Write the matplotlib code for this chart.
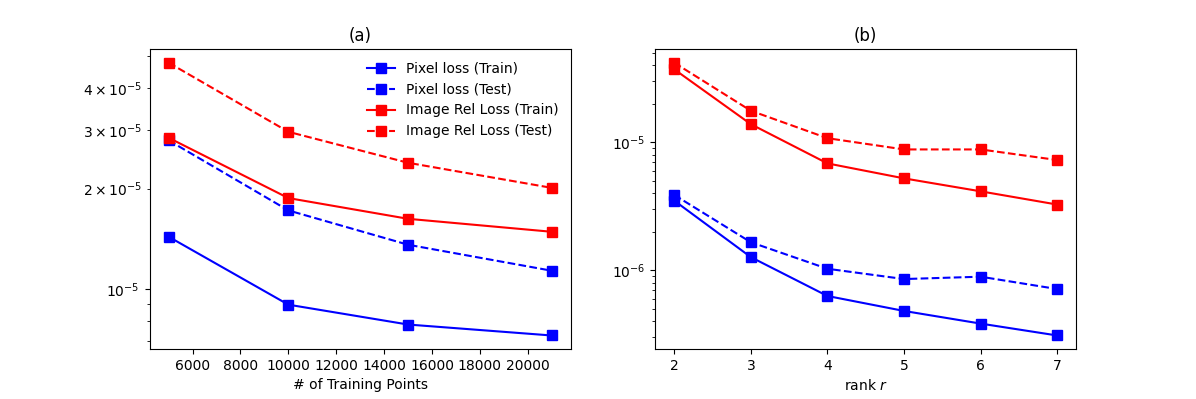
import numpy as np
import matplotlib
matplotlib.use('Agg')
import matplotlib.pyplot as plt

# (a) loss vs number of training points
n_train = [5000, 10000, 15000, 21000]
pix_train_a = [1.434e-5, 0.897e-5, 0.782e-5, 0.725e-5]
pix_test_a = [2.79e-5, 1.72e-5, 1.357e-5, 1.134e-5]
img_train_a = [2.84e-5, 1.873e-5, 1.623e-5, 1.484e-5]
img_test_a = [4.77e-5, 2.96e-5, 2.39e-5, 2.01e-5]

# (b) loss vs rank r
ranks = [2, 3, 4, 5, 6, 7]
pix_train_b = [3.51e-6, 1.27e-6, 6.31e-7, 4.82e-7, 3.84e-7, 3.10e-7]
pix_test_b = [3.89e-6, 1.66e-6, 1.03e-6, 8.56e-7, 8.93e-7, 7.15e-7]
img_train_b = [3.73e-5, 1.39e-5, 6.86e-6, 5.24e-6, 4.15e-6, 3.27e-6]
img_test_b = [4.20e-5, 1.77e-5, 1.08e-5, 8.82e-6, 8.82e-6, 7.29e-6]

labels = ['Pixel loss (Train)', 'Pixel loss (Test)',
          'Image Rel Loss (Train)', 'Image Rel Loss (Test)']

fig = plt.figure(figsize=(11.96, 3.99), dpi=100)
fig.subplots_adjust(top=0.877, bottom=0.125)

ax = fig.add_subplot(121)
ax.semilogy(n_train, pix_train_a, 'b-s', markersize=7, label=labels[0])
ax.semilogy(n_train, pix_test_a, 'b--s', markersize=7, label=labels[1])
ax.semilogy(n_train, img_train_a, 'r-s', markersize=7, label=labels[2])
ax.semilogy(n_train, img_test_a, 'r--s', markersize=7, label=labels[3])
ax.set_xlabel('# of Training Points')
ax.set_title('(a)')
ax.legend(loc='upper right', frameon=False)

ax2 = fig.add_subplot(122)
ax2.semilogy(ranks, pix_train_b, 'b-s', markersize=7)
ax2.semilogy(ranks, pix_test_b, 'b--s', markersize=7)
ax2.semilogy(ranks, img_train_b, 'r-s', markersize=7)
ax2.semilogy(ranks, img_test_b, 'r--s', markersize=7)
ax2.set_xlabel('rank $r$')
ax2.set_title('(b)')

plt.savefig('out.png', dpi=100)
